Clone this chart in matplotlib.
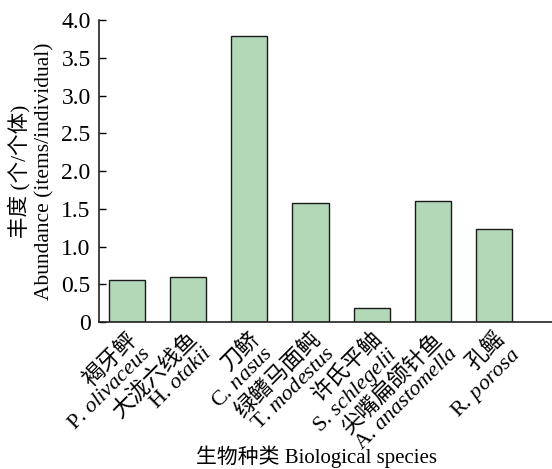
import matplotlib
matplotlib.use("Agg")
import matplotlib.pyplot as plt
import matplotlib.transforms as mtransforms

plt.rcParams['font.family'] = ['Liberation Serif', 'Noto Sans CJK SC']
plt.rcParams['mathtext.fontset'] = 'custom'
plt.rcParams['mathtext.it'] = 'Liberation Serif:italic'
plt.rcParams['mathtext.rm'] = 'Liberation Serif'

cn_names = ["褐牙鲆", "大泷六线鱼", "刀鲚", "绿鳍马面鲀", "许氏平鲉", "尖嘴扁颌针鱼", "孔鳐"]
genus = ["P.", "H.", "C.", "T.", "S.", "A.", "R."]
species = ["olivaceus", "otakii", "nasus", "modestus", "schlegelii", "anastomella", "porosa"]
values = [0.56, 0.60, 3.79, 1.57, 0.19, 1.60, 1.23]
yticks = [0, 0.5, 1.0, 1.5, 2.0, 2.5, 3.0, 3.5, 4.0]
yticklabels = ["0", "0.5", "1.0", "1.5", "2.0", "2.5", "3.0", "3.5", "4.0"]

fig = plt.figure(figsize=(5.52, 4.69), dpi=100)
ax = fig.add_axes([99/552, 1-322/469, 1-99/552, (322-20)/469])

x = list(range(len(values)))
ax.bar(x, values, width=0.59, color='#b2d8b8', edgecolor='#1a1a1a', linewidth=1.0)
ax.set_xlim(-0.45, 6.94)
ax.set_ylim(0, 4.0)
ax.set_yticks(yticks)
ax.set_yticklabels(yticklabels, fontsize=17)
ax.tick_params(axis='y', direction='in', length=5, width=1, pad=6)
ax.tick_params(axis='x', length=0)
for s in ['top', 'right']:
    ax.spines[s].set_visible(False)
for s in ['left', 'bottom']:
    ax.spines[s].set_linewidth(1.2)
    ax.spines[s].set_color('#222222')

labels = [f"{c}\n{g} $\\mathit{{{s}}}$" for c, g, s in zip(cn_names, genus, species)]
ax.set_xticks(x)
ax.set_xticklabels(labels, rotation=45, ha='right', va='top', rotation_mode='anchor',
                   fontsize=16, multialignment='right', linespacing=1.0)
offset = mtransforms.ScaledTranslation(0/100, -2/100, fig.dpi_scale_trans)
for lab in ax.get_xticklabels():
    lab.set_transform(lab.get_transform() + offset)

ax.set_ylabel("丰度 (个/个体)\nAbundance (items/individual)", fontsize=15.5, linespacing=1.3)
ax.yaxis.set_label_coords(-(99-54)/453, 0.5)
fig.text(317/552, 1-457/469, "生物种类 Biological species", fontsize=15, ha='center', va='center')

fig.savefig("out.png", dpi=100)
